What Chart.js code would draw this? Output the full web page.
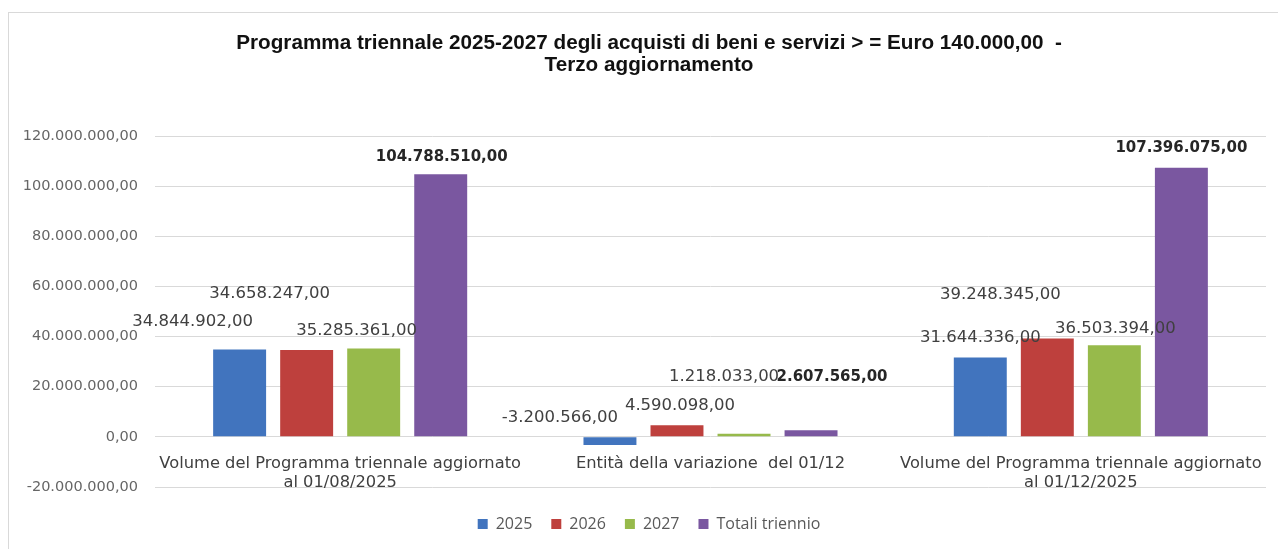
<!DOCTYPE html>
<html><head><meta charset="utf-8">
<script src="https://cdn.jsdelivr.net/npm/chart.js@4.4.1/dist/chart.umd.min.js"></script>
<style>
html,body{margin:0;padding:0;background:#fff;overflow:hidden;}
#wrap{position:relative;width:1278px;height:549px;overflow:hidden;}
#frame{position:absolute;left:8px;top:12px;width:1300px;height:600px;border-left:1px solid #d9d9d9;border-top:1px solid #d9d9d9;}
canvas{position:absolute;left:0;top:0;}
</style></head><body>
<div id="wrap"><div id="frame"></div><canvas id="c" width="1278" height="549"></canvas></div>
<script>
const titleLines = ['Programma triennale 2025-2027 degli acquisti di beni e servizi > = Euro 140.000,00  -', 'Terzo aggiornamento'];
const categories = [
  ['Volume del Programma triennale aggiornato', 'al 01/08/2025'],
  ['Entità della variazione  del 01/12'],
  ['Volume del Programma triennale aggiornato', 'al 01/12/2025']
];
const seriesNames = ['2025', '2026', '2027', 'Totali triennio'];
const values2025 = [34844902, -3200566, 31644336];
const values2026 = [34658247, 4590098, 39248345];
const values2027 = [35285361, 1218033, 36503394];
const valuesTotal = [104788510, 2607565, 107396075];
const yTicks = [-20000000, 0, 20000000, 40000000, 60000000, 80000000, 100000000, 120000000];

const seriesColors = ['#4174BE', '#BE403D', '#97BA4B', '#7A57A0'];

function fmt(v) {
  const neg = v < 0;
  const s = Math.round(Math.abs(v)).toString().replace(/\B(?=(\d{3})+(?!\d))/g, '.');
  return (neg ? '-' : '') + s + ',00';
}

const dataLabelPlugin = {
  id: 'dataLabels',
  afterDatasetsDraw(chart, args, opts) {
    const ctx = chart.ctx;
    ctx.save();
    ctx.textAlign = 'center';
    ctx.textBaseline = 'middle';
    chart.data.datasets.forEach((ds, di) => {
      const meta = chart.getDatasetMeta(di);
      const bold = opts.boldDatasets.includes(di);
      ctx.font = bold ? opts.boldFont : opts.font;
      ctx.fillStyle = bold ? opts.boldColor : opts.color;
      meta.data.forEach((el, i) => {
        const off = opts.offsets[di][i];
        ctx.fillText(fmt(ds.data[i]), el.x + off[0], el.y + off[1]);
      });
    });
    ctx.restore();
  }
};

const datasets = [values2025, values2026, values2027, valuesTotal].map((vals, i) => ({
  label: seriesNames[i],
  data: vals,
  backgroundColor: seriesColors[i],
  borderWidth: 0,
  categoryPercentage: 0.724,
  barPercentage: 0.79
}));

new Chart(document.getElementById('c'), {
  type: 'bar',
  data: { labels: categories, datasets },
  plugins: [dataLabelPlugin],
  options: {
    responsive: false,
    animation: false,
    devicePixelRatio: 1,
    layout: { padding: { top: 12, left: 20, right: 0, bottom: 7 } },
    scales: {
      x: {
        position: { y: 0 },
        grid: { display: false },
        border: { display: false },
        ticks: {
          padding: 9, maxRotation: 0, minRotation: 0, autoSkip: false,
          color: '#404040',
          font: { family: 'DejaVu Sans', size: 16.3, lineHeight: 1.18 }
        }
      },
      x2: {
        type: 'category',
        position: 'bottom',
        grid: { display: false },
        border: { display: false },
        ticks: { display: false },
        afterFit(s) { s.height = 10; }
      },
      y: {
        position: 'left',
        min: yTicks[0],
        max: yTicks[yTicks.length - 1],
        grid: { color: '#d9d9d9', lineWidth: 1, drawTicks: false },
        border: { display: false },
        ticks: {
          stepSize: yTicks[1] - yTicks[0],
          padding: 17,
          color: '#666666',
          font: { family: 'DejaVu Sans', size: 14.5 },
          callback: (v) => fmt(v)
        },
        afterFit(s) { s.width = 135; }
      },
      y2: {
        type: 'linear',
        position: 'right',
        grid: { display: false },
        border: { display: false },
        ticks: { display: false },
        afterFit(s) { s.width = 12; }
      }
    },
    plugins: {
      title: {
        display: true,
        text: titleLines,
        color: '#111111',
        font: { family: 'Liberation Sans', size: 20.7, weight: 'bold', lineHeight: 1.1 },
        padding: { top: 19.6, bottom: 58.9 }
      },
      legend: {
        position: 'bottom',
        align: 'center',
        labels: {
          boxWidth: 10, boxHeight: 10, padding: 19,
          color: '#595959',
          font: { family: 'Open Sans', size: 16 }
        }
      },
      tooltip: { enabled: false },
      dataLabels: {
        font: '16.5px "DejaVu Sans"',
        boldFont: 'bold 15px "DejaVu Sans"',
        color: '#404040',
        boldColor: '#262626',
        boldDatasets: [3],
        offsets: [
          [[-47, -28], [-50, -27], [0, -20]],
          [[-37, -56], [3, -20], [-47, -44]],
          [[-17, -18], [-20, -57], [1, -17]],
          [[1, -17], [21, -53], [0, -20]]
        ]
      }
    }
  }
});
</script>
</body></html>
